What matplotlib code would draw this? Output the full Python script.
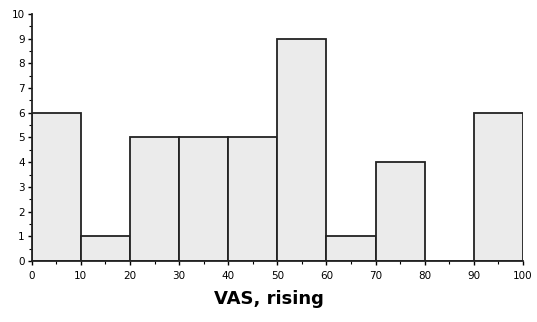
import numpy as np
import matplotlib.pyplot as plt
from matplotlib.ticker import MultipleLocator

# histogram bins and counts
bin_edges = [0, 10, 20, 30, 40, 50, 60, 70, 80, 90, 100]
counts = [6, 1, 5, 5, 5, 9, 1, 4, 0, 6]

fig = plt.figure(figsize=(5.37, 3.22), dpi=100)
ax = fig.add_axes([0.059, 0.189, 0.915, 0.768])

left = bin_edges[:-1]
widths = np.diff(bin_edges)
ax.bar(left, counts, width=widths, align='edge', color='#ebebeb',
       edgecolor='#222222', linewidth=1.3)

ax.set_xlim(0, 100)
ax.set_ylim(0, 10)
ax.xaxis.set_major_locator(MultipleLocator(10))
ax.xaxis.set_minor_locator(MultipleLocator(5))
ax.yaxis.set_major_locator(MultipleLocator(1))
ax.yaxis.set_minor_locator(MultipleLocator(0.5))
ax.tick_params(axis='both', which='major', direction='out', length=3,
               width=1, labelsize=7.5, pad=2)
ax.tick_params(axis='both', which='minor', direction='out', length=2, width=0.8)
ax.tick_params(axis='x', pad=4)

for s in ['top', 'right']:
    ax.spines[s].set_visible(False)
for s in ['left', 'bottom']:
    ax.spines[s].set_linewidth(1.3)
    ax.spines[s].set_color('#222222')

ax.set_xlabel('VAS, rising', fontsize=13, fontweight='bold')
ax.xaxis.set_label_coords(0.483, -0.115)

fig.savefig('out.png', dpi=100)
